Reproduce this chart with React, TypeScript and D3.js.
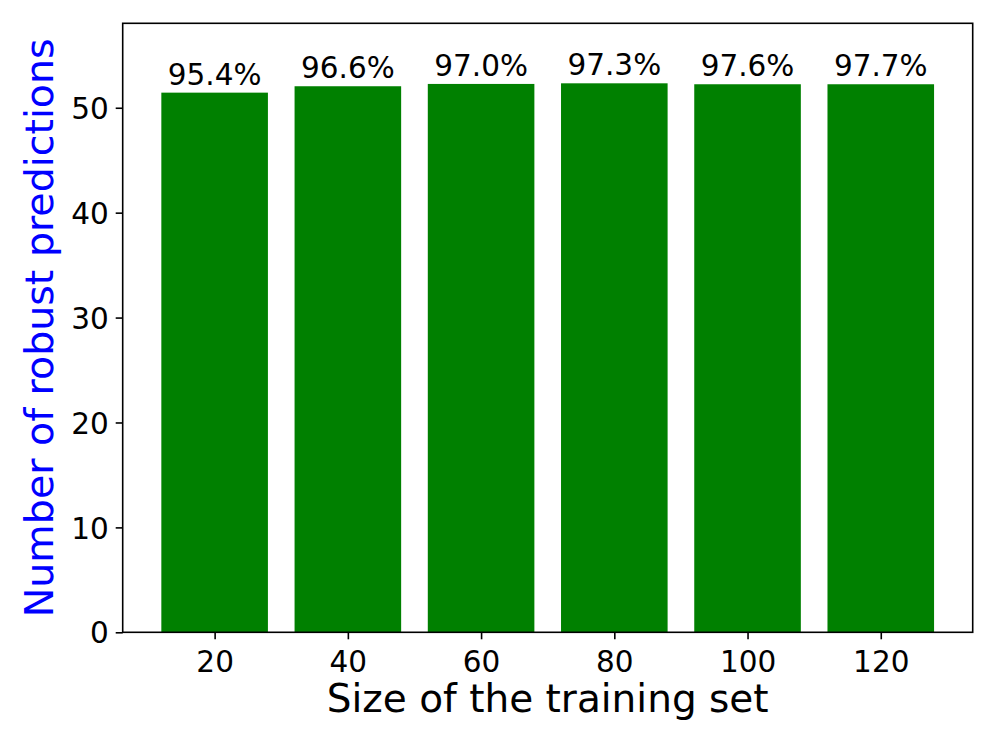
import React, { useEffect, useRef } from 'react';
import * as d3 from 'd3';

const sizes = [20, 40, 60, 80, 100, 120];
const robustCounts = [51.44, 52.05, 52.27, 52.33, 52.24, 52.24];
const barLabels = ['95.4%', '96.6%', '97.0%', '97.3%', '97.6%', '97.7%'];
const xTicks = [20, 40, 60, 80, 100, 120];
const yTicks = [0, 10, 20, 30, 40, 50];

export default function App() {
    const svgRef = useRef<SVGSVGElement>(null);
    const width = 996,
        height = 747;
    const margin = { top: 23.3, right: 23.3, bottom: 114.7, left: 122.7 };

    useEffect(() => {
        const svg = d3.select(svgRef.current);
        svg.selectAll('*').remove();

        const font = 'DejaVu Sans';
        const x = d3.scaleLinear().domain([6.2, 133.8]).range([margin.left, width - margin.right]);
        const y = d3.scaleLinear().domain([0, 58.05]).range([height - margin.bottom, margin.top]);
        const barW = 16;

        const data = sizes.map((s, i) => ({ size: s, value: robustCounts[i], label: barLabels[i] }));

        // bars
        svg.append('g')
            .selectAll('rect')
            .data(data)
            .join('rect')
            .attr('x', (d) => x(d.size - barW / 2))
            .attr('width', (d) => x(d.size + barW / 2) - x(d.size - barW / 2))
            .attr('y', (d) => y(d.value))
            .attr('height', (d) => y(0) - y(d.value))
            .attr('fill', '#008000');

        // labels on top of bars
        svg.append('g')
            .selectAll('text')
            .data(data)
            .join('text')
            .attr('x', (d) => x(d.size))
            .attr('y', (d) => y(d.value) - 8)
            .attr('text-anchor', 'middle')
            .attr('font-family', font)
            .attr('font-size', 29.5)
            .attr('fill', '#000')
            .text((d) => d.label);

        // x axis
        const xAxis = d3.axisBottom(x).tickValues(xTicks).tickSize(7).tickPadding(7).tickFormat(d3.format('d'));
        const gx = svg.append('g').attr('transform', `translate(0, ${height - margin.bottom})`).call(xAxis);
        gx.select('.domain').remove();
        gx.selectAll('line').attr('stroke', '#000').attr('stroke-width', 1.6);
        gx.selectAll('text')
            .attr('font-family', font)
            .attr('font-size', 29.5)
            .attr('fill', '#000')
            .attr('dy', null)
            .attr('y', 39.5);

        // y axis
        const yAxis = d3.axisLeft(y).tickValues(yTicks).tickSize(7).tickPadding(7);
        const gy = svg.append('g').attr('transform', `translate(${margin.left}, 0)`).call(yAxis);
        gy.select('.domain').remove();
        gy.selectAll('line').attr('stroke', '#000').attr('stroke-width', 1.6);
        gy.selectAll('text')
            .attr('font-family', font)
            .attr('font-size', 29.5)
            .attr('fill', '#000')
            .attr('dy', '0.36em');

        // frame
        svg.append('rect')
            .attr('x', margin.left)
            .attr('y', margin.top)
            .attr('width', width - margin.left - margin.right)
            .attr('height', height - margin.top - margin.bottom)
            .attr('fill', 'none')
            .attr('stroke', '#000')
            .attr('stroke-width', 1.6);

        // axis titles
        svg.append('text')
            .attr('x', (margin.left + width - margin.right) / 2)
            .attr('y', 712)
            .attr('text-anchor', 'middle')
            .attr('font-family', font)
            .attr('font-size', 39)
            .attr('fill', '#000')
            .text('Size of the training set');

        svg.append('text')
            .attr('transform', `translate(53, ${(margin.top + height - margin.bottom) / 2}) rotate(-90)`)
            .attr('text-anchor', 'middle')
            .attr('font-family', font)
            .attr('font-size', 39.5)
            .attr('fill', '#0000ff')
            .text('Number of robust predictions');
        //eslint-disable-next-line
    }, []);

    return (
        <div style={{ position: 'absolute', left: 0, top: 0 }}>
            <svg ref={svgRef} width={width} height={height} style={{ display: 'block', background: '#fff' }} />
        </div>
    );
}
